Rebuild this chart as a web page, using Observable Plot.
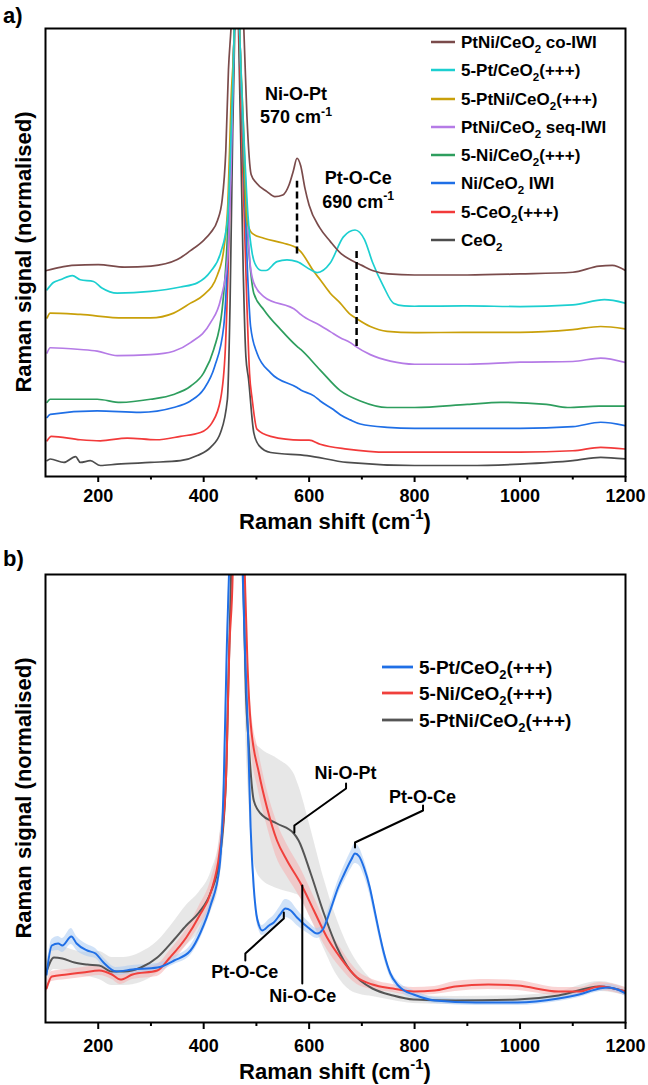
<!DOCTYPE html>
<html><head><meta charset="utf-8">
<script src="https://cdn.jsdelivr.net/npm/d3@7"></script>
<script src="https://cdn.jsdelivr.net/npm/@observablehq/plot@0.6"></script>
<style>
body{margin:0;background:#fff;}
#wrap{width:648px;}
#wrap svg{display:block;}
</style></head><body><div id="wrap"></div>
<script>
// ---------- Axis ticks ----------
const shiftTicks = [200, 400, 600, 800, 1000, 1200];
const minorTicks = [300, 500, 700, 900, 1100];

// ---------- Panel a: Raman shift (cm-1) and offset signal ----------
const coIWI_shift = [102,130,150,200,250,300,350,375,400,413,426,435,442,447,452,462,476,482,490,500,520,535,550,562,570,577,584,592,600,620,640,660,680,700,720,750,800,900,1000,1100,1150,1175,1200];
const coIWI_signal = [600,610,615,617,610,613,632,658,688,710,745,805,950,1185,1310,1700,1310,1050,880,855,830,815,820,850,890,927,905,840,790,725,685,650,630,615,600,590,587,587,590,595,613,615,600];

const pt5_shift = [103,115,128,151,166,191,207,236,299,356,388,413,432,445,452,458,462,468,476,484,492,500,510,518,539,558,577,603,615,640,665,687,705,720,741,760,780,800,900,1000,1100,1160,1200];
const pt5_signal = [544,565,573,585,573,568,549,534,539,552,564,597,651,747,1000,1310,1700,1310,1000,760,650,612,600,600,626,631,626,602,594,622,698,718,690,625,554,505,497,496,497,495,500,515,505];

const ptni5_shift = [103,109,166,248,299,343,375,400,426,438,446,452,458,462,468,476,482,492,514,550,577,584,609,621,640,659,678,688,716,748,800,900,1000,1100,1153,1200];
const ptni5_signal = [462,476,472,462,462,476,505,529,587,660,800,1100,1310,1700,1310,1000,747,708,694,680,665,655,597,573,534,505,472,462,437,423,419,420,420,428,437,430];

const seqIWI_shift = [103,109,166,198,236,299,343,375,413,432,445,452,458,462,468,478,488,495,514,577,584,621,640,659,678,688,716,754,800,900,1000,1100,1153,1200];
const seqIWI_signal = [360,375,370,365,352,355,365,390,448,515,631,900,1310,1700,1310,900,620,564,524,482,472,440,422,404,390,379,355,336,327,327,333,335,345,332];

const ni5_shift = [103,109,198,242,299,343,375,400,419,435,445,452,458,462,468,476,486,495,514,546,577,584,621,659,697,748,800,900,963,1050,1090,1150,1200];
const ni5_signal = [216,225,225,216,225,239,263,302,370,486,700,1000,1310,1700,1310,900,650,534,486,428,379,370,310,250,220,201,201,210,216,210,201,205,205];

const niIWI_shift = [103,109,198,280,343,375,400,421,438,447,453,458,462,468,476,483,489,501,527,577,584,609,621,646,659,678,697,748,800,900,1000,1100,1153,1200];
const niIWI_signal = [172,181,191,187,201,220,254,321,437,700,1000,1310,1700,1310,900,600,437,360,302,259,252,235,220,195,180,165,153,143,140,140,140,145,158,148];

const ceo5_shift = [103,111,166,204,255,310,356,394,416,432,441,448,454,458,462,467,474,482,487,492,501,527,584,600,621,672,750,900,1000,1100,1153,1200];
const ceo5_signal = [104,117,107,104,112,107,117,128,157,225,370,700,1100,1310,1700,1310,900,500,300,225,138,117,106,106,94,80,71,71,71,75,85,80];

const ceo2_shift = [103,109,135,157,166,185,204,236,299,356,388,413,432,445,450,455,459,462,466,470,475,480,485,495,505,527,596,672,800,900,1000,1100,1153,1200];
const ceo2_signal = [46,51,41,58,41,46,32,36,41,46,61,85,128,225,500,1000,1310,1700,1310,1000,600,350,285,128,90,70,61,41,32,32,36,46,56,51];

const labelsA = ["PtNi/CeO_{2} co-IWI","5-Pt/CeO_{2}(+++)","5-PtNi/CeO_{2}(+++)","PtNi/CeO_{2} seq-IWI","5-Ni/CeO_{2}(+++)","Ni/CeO_{2} IWI","5-CeO_{2}(+++)","CeO_{2}"];
const shiftsA = [coIWI_shift, pt5_shift, ptni5_shift, seqIWI_shift, ni5_shift, niIWI_shift, ceo5_shift, ceo2_shift];
const signalsA = [coIWI_signal, pt5_signal, ptni5_signal, seqIWI_signal, ni5_signal, niIWI_signal, ceo5_signal, ceo2_signal];

// dashed marker lines (position, top, bottom) and annotations
const dashShift = [577, 690];
const dashTop = [860, 660];
const dashBottom = [648, 379];
const annAText = ["Ni-O-Pt", "570 cm^{-1}", "Pt-O-Ce", "690 cm^{-1}"];
const annAShift = [576, 576, 694, 694];
const annASignal = [1115, 1046, 869, 799];

// ---------- Panel b: mean spectra with spread ----------
const bPt_shift = [102,112,124,132,149,159,179,195,210,234,265,312,344,375,394,413,430,438,444,448,462,474,479,484,489,495,500,505,511,524,533,545,555,565,577,598,615,626,640,655,666,680,687,695,704,715,723,732,742,754,767,780,798,838,916,995,1073,1112,1151,1167,1185,1200];
const bPt_signal = [48,77,79,77,86,79,72,69,60,51,53,55,62,72,90,117,155,239,378,448,800,448,360,290,195,135,108,97,92,97,100,108,114,112,105,95,89,93,112,135,148,163,169,166,155,135,115,92,69,49,38,32,28,22,20,20,24,28,34,35,33,29];
const bPt_spread = [5,6,7,7,8,7,6,5,5,4,4,4,4,5,6,6,6,6,6,6,6,6,6,6,6,5,5,5,5,6,7,8,9,9,8,6,5,5,6,7,8,9,10,9,8,7,6,5,5,4,4,4,4,3,3,3,3,3,3,3,3,3];

const bNi_shift = [102,112,140,171,202,226,242,265,312,336,367,391,414,430,442,449,455,462,478,483,489,505,520,539,558,584,609,634,659,691,720,759,798,838,877,940,995,1073,1112,1151,1200];
const bNi_signal = [34,46,48,50,52,48,43,48,52,65,85,106,131,170,239,378,448,800,448,360,300,249,215,182,162,139,112,85,65,45,38,34,31,32,36,38,37,31,31,36,31];
const bNi_spread = [5,5,5,5,5,5,5,5,6,7,8,10,12,12,12,12,12,12,15,18,20,20,18,18,16,15,14,12,10,7,5,4,4,4,5,5,5,4,4,4,4];

const bPtNi_shift = [102,116,132,155,179,202,226,249,281,312,344,367,391,414,430,442,447,452,462,475,480,485,495,508,539,571,580,603,628,653,678,697,720,759,798,877,995,1073,1151,1200];
const bPtNi_signal = [51,65,64,60,58,57,51,51,55,65,83,97,110,131,163,239,343,448,800,448,330,282,222,209,199,189,182,149,109,75,52,42,34,27,23,22,23,27,36,31];
const bPtNi_spread = [10,12,12,12,12,14,14,14,15,16,18,20,20,20,22,25,25,25,25,30,45,55,60,65,65,60,55,45,35,28,20,14,8,5,4,4,4,4,5,4];

const labelsB = ["5-Pt/CeO_{2}(+++)","5-Ni/CeO_{2}(+++)","5-PtNi/CeO_{2}(+++)"];
const shiftsB = [bPt_shift, bNi_shift, bPtNi_shift];
const signalsB = [bPt_signal, bNi_signal, bPtNi_signal];
const spreadsB = [bPt_spread, bNi_spread, bPtNi_spread];

// leader lines for panel b annotations
const leaders = [
  {shift:[572,572,670,670], signal:[190,197,234,239]},
  {shift:[687,687,816,816], signal:[175,180,212,217]},
  {shift:[552,552,479,479], signal:[110,104,69,62]},
  {shift:[587,587], signal:[137,39]}
];
const annBText = ["Ni-O-Pt","Pt-O-Ce","Pt-O-Ce","Ni-O-Ce"];
const annBShift = [670, 816, 479, 589];
const annBSignal = [249, 225, 50, 26];

// ---------- styles ----------
const FONT = "'Liberation Sans', Arial, Helvetica, sans-serif";
const colorsA = ["#7a4b4b","#1ccfd0","#c9a00a","#b57be6","#2e9e5e","#1f6fe6","#f23a3a","#4d4d4d"];
const colorsB = ["#1f6fe6","#f0403c","#555555"];
const bandB = ["#a9cbf3","#f6b1b1","#d4d4d4"];

function rows(shift, signal, spread) {
  return shift.map((x, i) => ({x, y: signal[i], lo: spread ? signal[i] - spread[i] : null, hi: spread ? signal[i] + spread[i] : null}));
}

function rich(g, x, y, str, fs, anchor = "start", transform = null) {
  const t = g.append("text").attr("x", x).attr("y", y + fs * 0.35)
    .attr("text-anchor", anchor).attr("font-size", fs).attr("font-weight", "bold")
    .attr("font-family", FONT).attr("fill", "#000");
  if (transform) t.attr("transform", transform);
  const re = /([_^])\{([^}]*)\}/g;
  let last = 0, m, cur = 0;
  const seg = (txt, off, small) => {
    if (!txt) return;
    const ts = t.append("tspan").attr("dy", off - cur).text(txt);
    if (small) ts.attr("font-size", fs * 0.68);
    cur = off;
  };
  while ((m = re.exec(str))) {
    seg(str.slice(last, m.index), 0, false);
    seg(m[2], m[1] === "_" ? fs * 0.28 : -fs * 0.42, true);
    last = re.lastIndex;
  }
  seg(str.slice(last), 0, false);
  return t;
}

function scaleFn(plot, name) {
  const s = plot.scale(name);
  if (s && typeof s.apply === "function") return v => s.apply(v);
  return d3.scaleLinear(s.domain, s.range);
}

const wrap = document.getElementById("wrap");

// ---------- Panel a ----------
const marksA = [];
for (let i = shiftsA.length - 1; i >= 0; i--) {
  marksA.push(Plot.line(rows(shiftsA[i], signalsA[i]), {x: "x", y: "y", stroke: colorsA[i], strokeWidth: 1.7, curve: "monotone-x", clip: true}));
}
const dashRows = dashShift.map((x, i) => ({x, y1: dashBottom[i], y2: dashTop[i]}));
marksA.push(Plot.ruleX(dashRows, {x: "x", y1: "y1", y2: "y2", stroke: "#000", strokeWidth: 2.5, strokeDasharray: "7,4"}));
marksA.push(Plot.frame({stroke: "#000", strokeWidth: 2}));
marksA.push(Plot.axisX({ticks: shiftTicks, tickSize: 6, tickPadding: 6.5, tickFormat: "d", label: null, strokeWidth: 2, fontSize: 18}));
marksA.push(Plot.axisX({ticks: minorTicks, tickSize: 3.5, text: null, label: null, strokeWidth: 2}));

const plotA = Plot.plot({
  width: 648, height: 540,
  marginTop: 28, marginBottom: 64, marginLeft: 45, marginRight: 23,
  style: {fontFamily: FONT, fontSize: "18px", fontWeight: "bold", color: "#000", background: "#fff", overflow: "visible"},
  x: {domain: [100, 1200]},
  y: {domain: [0, 1305], axis: null},
  marks: marksA
});
wrap.appendChild(plotA);
{
  const g = d3.select(plotA).append("g");
  const fx = scaleFn(plotA, "x"), fy = scaleFn(plotA, "y");
  rich(g, 3, 15, "a)", 22);
  rich(g, 335, 521, "Raman shift (cm^{-1})", 22, "middle");
  rich(g, 0, 0, "Raman signal (normalised)", 22, "middle", "translate(23,252) rotate(-90)");
  annAText.forEach((s, i) => rich(g, fx(annAShift[i]), fy(annASignal[i]), s, 18, "middle"));
  const legY = [42, 70, 99, 127, 155, 183, 212, 240];
  labelsA.forEach((s, i) => {
    g.append("line").attr("x1", 431).attr("x2", 455).attr("y1", legY[i]).attr("y2", legY[i])
      .attr("stroke", colorsA[i]).attr("stroke-width", 2.5);
    rich(g, 461, legY[i], s, 17);
  });
}

// ---------- Panel b ----------
const marksB = [];
const orderB = [2, 1, 0];
orderB.forEach(i => marksB.push(Plot.areaY(rows(shiftsB[i], signalsB[i], spreadsB[i]), {x: "x", y1: "lo", y2: "hi", fill: bandB[i], fillOpacity: 0.55, curve: "monotone-x", clip: true})));
orderB.forEach(i => marksB.push(Plot.line(rows(shiftsB[i], signalsB[i]), {x: "x", y: "y", stroke: colorsB[i], strokeWidth: 2, curve: "monotone-x", clip: true})));
leaders.forEach(l => marksB.push(Plot.line(rows(l.shift, l.signal), {x: "x", y: "y", stroke: "#000", strokeWidth: 2})));
marksB.push(Plot.frame({stroke: "#000", strokeWidth: 2}));
marksB.push(Plot.axisX({ticks: shiftTicks, tickSize: 7, tickPadding: 9.5, tickFormat: "d", label: null, strokeWidth: 2, fontSize: 18}));
marksB.push(Plot.axisX({ticks: minorTicks, tickSize: 4, text: null, label: null, strokeWidth: 2}));

const plotB = Plot.plot({
  width: 648, height: 545,
  marginTop: 34, marginBottom: 63, marginLeft: 45, marginRight: 23,
  style: {fontFamily: FONT, fontSize: "18px", fontWeight: "bold", color: "#000", background: "#fff", overflow: "visible"},
  x: {domain: [100, 1200]},
  y: {domain: [0, 448], axis: null},
  marks: marksB
});
wrap.appendChild(plotB);
{
  const g = d3.select(plotB).append("g");
  const fx = scaleFn(plotB, "x"), fy = scaleFn(plotB, "y");
  rich(g, 3, 18, "b)", 22);
  rich(g, 335, 531, "Raman shift (cm^{-1})", 22, "middle");
  rich(g, 0, 0, "Raman signal (normalised)", 22, "middle", "translate(23,258) rotate(-90)");
  annBText.forEach((s, i) => rich(g, fx(annBShift[i]), fy(annBSignal[i]), s, 18, "middle"));
  const legY = [127, 153, 180];
  labelsB.forEach((s, i) => {
    g.append("line").attr("x1", 382).attr("x2", 413).attr("y1", legY[i]).attr("y2", legY[i])
      .attr("stroke", colorsB[i]).attr("stroke-width", 2.8);
    rich(g, 419, legY[i], s, 19);
  });
}
</script></body></html>
